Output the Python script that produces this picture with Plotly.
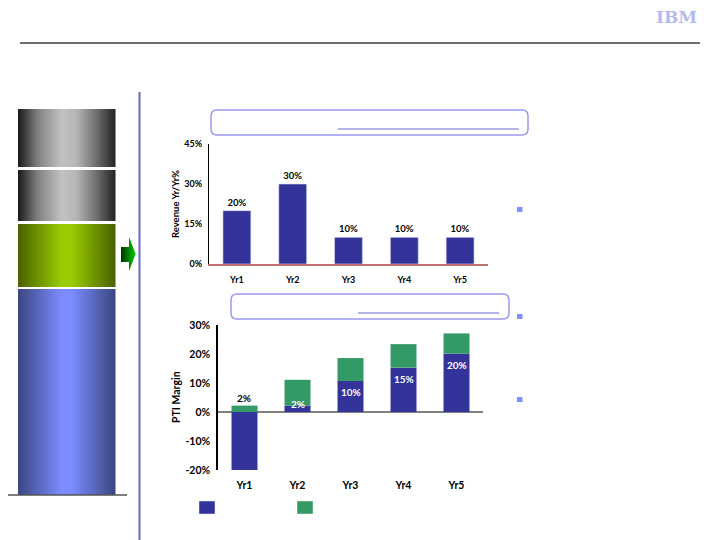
import plotly.graph_objects as go

# ---------------- data ----------------
years = ["Yr1", "Yr2", "Yr3", "Yr4", "Yr5"]
rev_growth = [20, 30, 10, 10, 10]
rev_labels = ["20%", "30%", "10%", "10%", "10%"]
rev_ticks = [0, 15, 30, 45]
rev_ticktext = ["0%", "15%", "30%", "45%"]

pti_base = [-20, 2.2, 10.7, 15.3, 20.1]
pti_incr = [2.2, 8.9, 7.9, 8.1, 7.0]
base_labels = ["", "2%", "10%", "15%", "20%"]
incr_labels = ["2%", "", "", "", ""]
pti_ticks = [-20, -10, 0, 10, 20, 30]
pti_ticktext = ["-20%", "-10%", "0%", "10%", "20%", "30%"]

BLUE = "#333399"
GREEN = "#339966"
FONT = "Lato"

W, H = 720, 540


def px(x):
    return x / W


def py(y):
    return 1 - y / H


fig = go.Figure()

# ---------------- top chart ----------------
fig.add_trace(go.Bar(
    x=years, y=rev_growth, text=rev_labels, textposition="outside",
    textfont=dict(size=9.5, color="black", family=FONT, weight="bold"),
    marker=dict(color=BLUE, line=dict(color="#dcdcf4", width=0.6)),
    width=0.5, cliponaxis=False, xaxis="x", yaxis="y", showlegend=False,
    hoverinfo="skip"))

# ---------------- bottom chart ----------------
fig.add_trace(go.Bar(
    x=years, y=pti_base, marker=dict(color=BLUE, line=dict(width=0)),
    width=0.49, xaxis="x2", yaxis="y2", showlegend=False, hoverinfo="skip"))
fig.add_trace(go.Bar(
    x=years, y=pti_incr, marker=dict(color=GREEN, line=dict(width=0)),
    width=0.49, xaxis="x2", yaxis="y2", showlegend=False, hoverinfo="skip"))

annotations = []
for i, lbl in enumerate(base_labels):
    if lbl:
        annotations.append(dict(
            x=years[i], y=pti_base[i], xref="x2", yref="y2", text=lbl,
            showarrow=False, yanchor="middle",
            yshift=-11 if pti_base[i] >= 5 else 2,
            font=dict(size=10, color="white", family=FONT, weight="bold")))
for i, lbl in enumerate(incr_labels):
    if lbl:
        top = pti_incr[i] if pti_base[i] < 0 else pti_base[i] + pti_incr[i]
        annotations.append(dict(
            x=years[i], y=top, xref="x2", yref="y2", text=lbl,
            showarrow=False, yanchor="bottom", yshift=0,
            font=dict(size=10, color="black", family=FONT, weight="bold")))

# axis titles
annotations.append(dict(x=px(175), y=py(204), xref="paper", yref="paper",
                        xanchor="center", yanchor="middle",
                        text="Revenue Yr/Yr%", textangle=-90, showarrow=False,
                        font=dict(size=9.5, color="black", family=FONT, weight="bold")))
annotations.append(dict(x=px(176), y=py(397), xref="paper", yref="paper",
                        xanchor="center", yanchor="middle",
                        text="PTI Margin", textangle=-90, showarrow=False,
                        font=dict(size=10.5, color="black", family=FONT, weight="bold")))
# logo
annotations.append(dict(x=676, y=17, xref="x3", yref="y3", text="IBM",
                        showarrow=False, xanchor="center", yanchor="middle",
                        font=dict(size=17, color="#b4baee", family="DejaVu Serif",
                                  weight="bold")))

# ---------------- decorations (pixel space axis) ----------------
def box_trace(x0, y0, x1, y1, scale):
    return go.Scatter(x=[x0, x1, x1, x0, x0], y=[y0, y0, y1, y1, y0],
                      mode="lines", fill="toself", line=dict(width=0),
                      fillgradient=dict(type="horizontal", colorscale=scale),
                      xaxis="x3", yaxis="y3", showlegend=False, hoverinfo="skip")

gray_scale = [[0, "#1a1a1a"], [0.2, "#808080"], [0.45, "#c2c2c2"],
              [0.6, "#b5b5b5"], [0.8, "#707070"], [1, "#222222"]]
green_scale = [[0, "#4a6000"], [0.45, "#99cc00"], [0.55, "#99cc00"], [1, "#4a6000"]]
blue_scale = [[0, "#3a4680"], [0.45, "#7b8cff"], [0.55, "#7b8cff"], [1, "#3a4680"]]
arrow_scale = [[0, "#003300"], [1, "#00cc00"]]

fig.add_trace(box_trace(18, 109, 115.5, 167, gray_scale))
fig.add_trace(box_trace(18, 170, 115.5, 221, gray_scale))
fig.add_trace(box_trace(18, 224, 115.5, 287, green_scale))
fig.add_trace(box_trace(18, 289, 115.5, 495, blue_scale))
fig.add_trace(go.Scatter(
    x=[121, 129, 129, 135.7, 129, 129, 121, 121],
    y=[247, 247, 237, 254, 271, 262, 262, 247],
    mode="lines", fill="toself", line=dict(width=0),
    fillgradient=dict(type="horizontal", colorscale=arrow_scale),
    xaxis="x3", yaxis="y3", showlegend=False, hoverinfo="skip"))


def rrect(x0, y0, x1, y1, r):
    return (f"M{x0 + r},{y0} L{x1 - r},{y0} Q{x1},{y0} {x1},{y0 + r} "
            f"L{x1},{y1 - r} Q{x1},{y1} {x1 - r},{y1} L{x0 + r},{y1} "
            f"Q{x0},{y1} {x0},{y1 - r} L{x0},{y0 + r} Q{x0},{y0} {x0 + r},{y0} Z")


shapes = [
    # header rule
    dict(type="line", x0=20, x1=700, y0=43, y1=43, xref="x3", yref="y3",
         line=dict(color="#6e6e6e", width=1.8)),
    # vertical divider
    dict(type="line", x0=139.5, x1=139.5, y0=92, y1=540, xref="x3", yref="y3",
         line=dict(color="#6666bb", width=2)),
    # base line under stack
    dict(type="line", x0=8, x1=127, y0=495, y1=495, xref="x3", yref="y3",
         line=dict(color="#555555", width=1.5)),
    # title boxes
    dict(type="path", path=rrect(211, 110, 528, 135, 6), xref="x3", yref="y3",
         line=dict(color="#9999ee", width=1.5)),
    dict(type="line", x0=338, x1=519, y0=129, y1=129, xref="x3", yref="y3",
         line=dict(color="#6666cc", width=1)),
    dict(type="path", path=rrect(231, 294, 509, 319, 6), xref="x3", yref="y3",
         line=dict(color="#9999ee", width=1.5)),
    dict(type="line", x0=358, x1=499, y0=313, y1=313, xref="x3", yref="y3",
         line=dict(color="#6666cc", width=1)),
    # legend squares
    dict(type="rect", x0=199, x1=215, y0=501, y1=514, xref="x3", yref="y3",
         fillcolor=BLUE, line=dict(color="#e8e8f4", width=0.5)),
    dict(type="rect", x0=297, x1=313, y0=501, y1=514, xref="x3", yref="y3",
         fillcolor=GREEN, line=dict(color="#e8f4e8", width=0.5)),
]
for by in (207, 314, 397):
    shapes.append(dict(type="rect", x0=517, x1=522.5, y0=by, y1=by + 5,
                       xref="x3", yref="y3", fillcolor="#8090ff",
                       line=dict(width=0)))

tick_font_top = dict(size=9, color="black", family=FONT, weight="bold")
tick_font_bot = dict(size=10.5, color="black", family=FONT, weight="bold")

fig.update_layout(
    width=W, height=H, margin=dict(l=0, r=0, t=0, b=0, pad=0, autoexpand=False),
    paper_bgcolor="white", plot_bgcolor="rgba(0,0,0,0)",
    barmode="relative", showlegend=False,
    font=dict(family=FONT, color="black"),
    xaxis=dict(domain=[px(209), px(488)], anchor="y", range=[-0.5, 4.5],
               showline=True, linecolor="#c07070", linewidth=2,
               showgrid=False, zeroline=False, ticks="outside", ticklen=6,
               tickcolor="rgba(0,0,0,0)", tickfont=tick_font_top,
               fixedrange=True, automargin=False),
    yaxis=dict(domain=[py(264), py(144)], anchor="x", range=[0, 45],
               tickmode="array", tickvals=rev_ticks, ticktext=rev_ticktext,
               showline=True, linecolor="black", linewidth=1, showgrid=False,
               zeroline=False, ticks="outside", ticklen=4,
               tickcolor="rgba(0,0,0,0)", tickfont=tick_font_top,
               fixedrange=True, automargin=False),
    xaxis2=dict(domain=[px(218), px(483)], anchor="y2", range=[-0.5, 4.5],
                showline=False, showgrid=False, zeroline=False,
                ticks="outside", ticklen=5, tickcolor="rgba(0,0,0,0)",
                tickfont=tick_font_bot, fixedrange=True, automargin=False),
    yaxis2=dict(domain=[py(470), py(325)], anchor="x2", range=[-20, 30],
                tickmode="array", tickvals=pti_ticks, ticktext=pti_ticktext,
                showline=True, linecolor="black", linewidth=1.5, showgrid=False,
                zeroline=True, zerolinecolor="#808080", zerolinewidth=2,
                ticks="outside", ticklen=4, tickcolor="rgba(0,0,0,0)",
                tickfont=tick_font_bot, fixedrange=True, automargin=False),
    xaxis3=dict(domain=[0, 1], anchor="y3", range=[0, W], visible=False,
                fixedrange=True, automargin=False),
    yaxis3=dict(domain=[0, 1], anchor="x3", range=[H, 0], visible=False,
                fixedrange=True, automargin=False),
    shapes=shapes, annotations=annotations,
)

fig.write_html("out.html")
